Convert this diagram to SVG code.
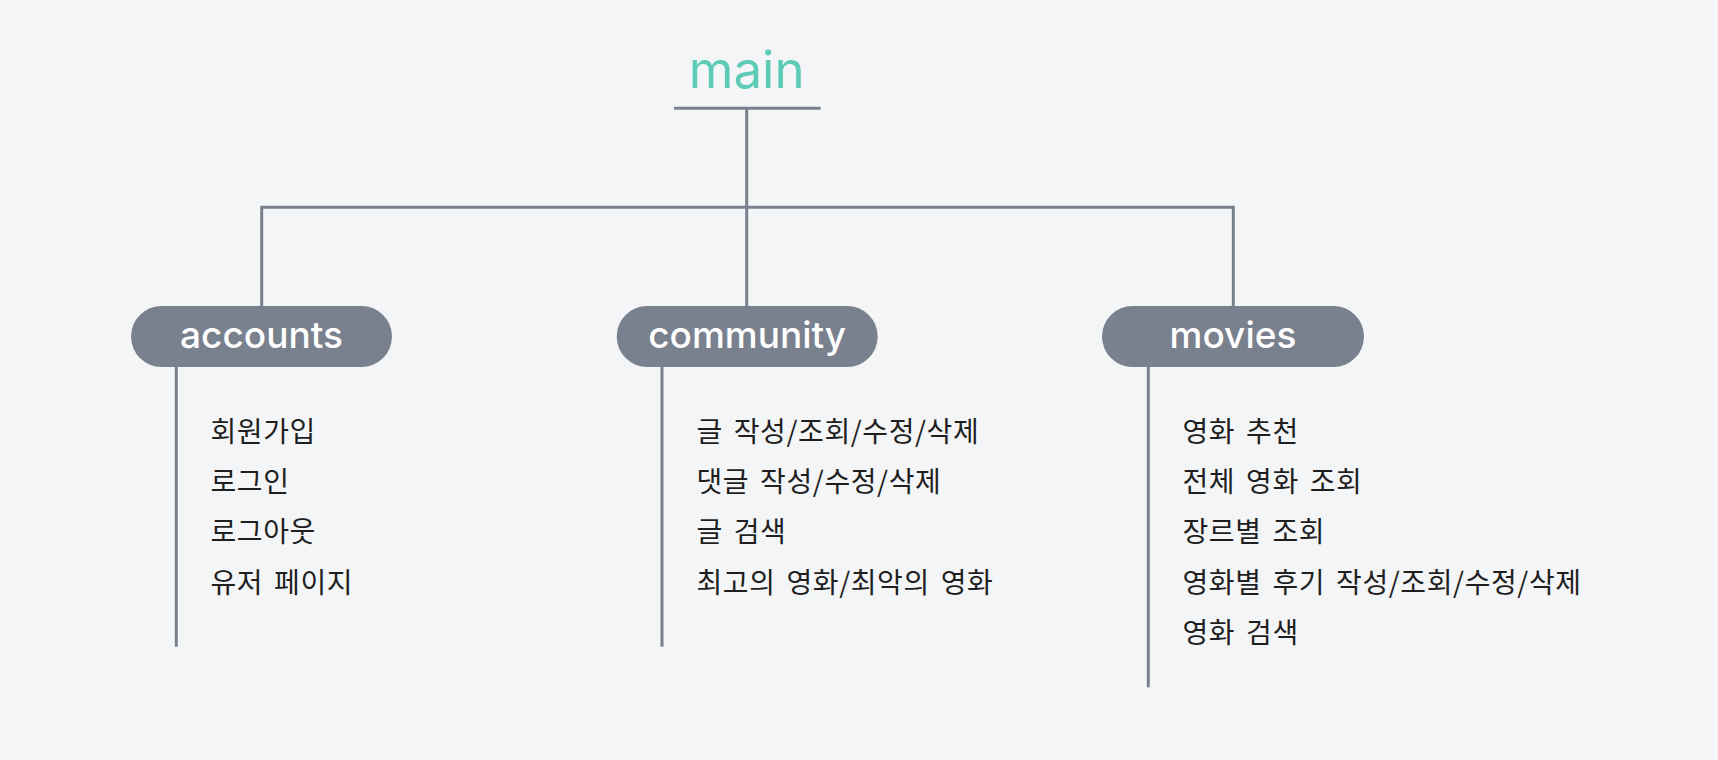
<svg xmlns="http://www.w3.org/2000/svg" width="1718" height="760" viewBox="0 0 1718 760">
<style>
.bg{fill:#f4f5f7}
.ln{stroke:#7a818e;stroke-width:3;fill:none}
.pill{fill:#7a818e}
.pt{font-family:Inter,"Noto Sans",sans-serif;font-size:37px;font-weight:500;fill:#ffffff;text-anchor:middle}
.main{font-family:Inter,"Noto Sans",sans-serif;font-size:51px;font-weight:400;fill:#5ecbb6;text-anchor:middle}
.it{font-family:"Noto Sans CJK KR","Noto Sans",sans-serif;font-size:28px;fill:#1f1f1f;letter-spacing:0.6px;word-spacing:4px}
</style>
<rect class="bg" x="0" y="0" width="1718" height="760"/>
<g id="connectors">
<line class="ln" x1="674" y1="108.3" x2="820.7" y2="108.3"/>
<line class="ln" x1="746.7" y1="108.3" x2="746.7" y2="306"/>
<polyline class="ln" points="261.7,306 261.7,207.3 1233.3,207.3 1233.3,306"/>
<line class="ln" x1="176.3" y1="366" x2="176.3" y2="646.7"/>
<line class="ln" x1="662" y1="366" x2="662" y2="646.7"/>
<line class="ln" x1="1148.3" y1="366" x2="1148.3" y2="687.3"/>
</g>
<g id="main">
<text class="main" x="746.7" y="88.3">main</text>
</g>
<g id="accounts">
<rect class="pill" x="131" y="306" width="261" height="61" rx="30.5"/>
<text class="pt" x="261.5" y="348.3">accounts</text>
</g>
<g id="accounts-items">
<text class="it" x="210.5" y="441.7">회원가입</text>
<text class="it" x="210.5" y="492">로그인</text>
<text class="it" x="210.5" y="542.3">로그아웃</text>
<text class="it" x="210.5" y="592.5">유저 페이지</text>
</g>
<g id="community">
<rect class="pill" x="616.7" y="306" width="261" height="61" rx="30.5"/>
<text class="pt" x="747.2" y="348.3">community</text>
</g>
<g id="community-items">
<text class="it" x="696.5" y="441.7">글 작성/조회/수정/삭제</text>
<text class="it" x="696.5" y="492">댓글 작성/수정/삭제</text>
<text class="it" x="696.5" y="542.3">글 검색</text>
<text class="it" x="696.5" y="592.5">최고의 영화/최악의 영화</text>
</g>
<g id="movies">
<rect class="pill" x="1102" y="306" width="262" height="61" rx="30.5"/>
<text class="pt" x="1233" y="348.3">movies</text>
</g>
<g id="movies-items">
<text class="it" x="1182.5" y="441.7">영화 추천</text>
<text class="it" x="1182.5" y="492">전체 영화 조회</text>
<text class="it" x="1182.5" y="542.3">장르별 조회</text>
<text class="it" x="1182.5" y="592.5">영화별 후기 작성/조회/수정/삭제</text>
<text class="it" x="1182.5" y="642.5">영화 검색</text>
</g>
</svg>
